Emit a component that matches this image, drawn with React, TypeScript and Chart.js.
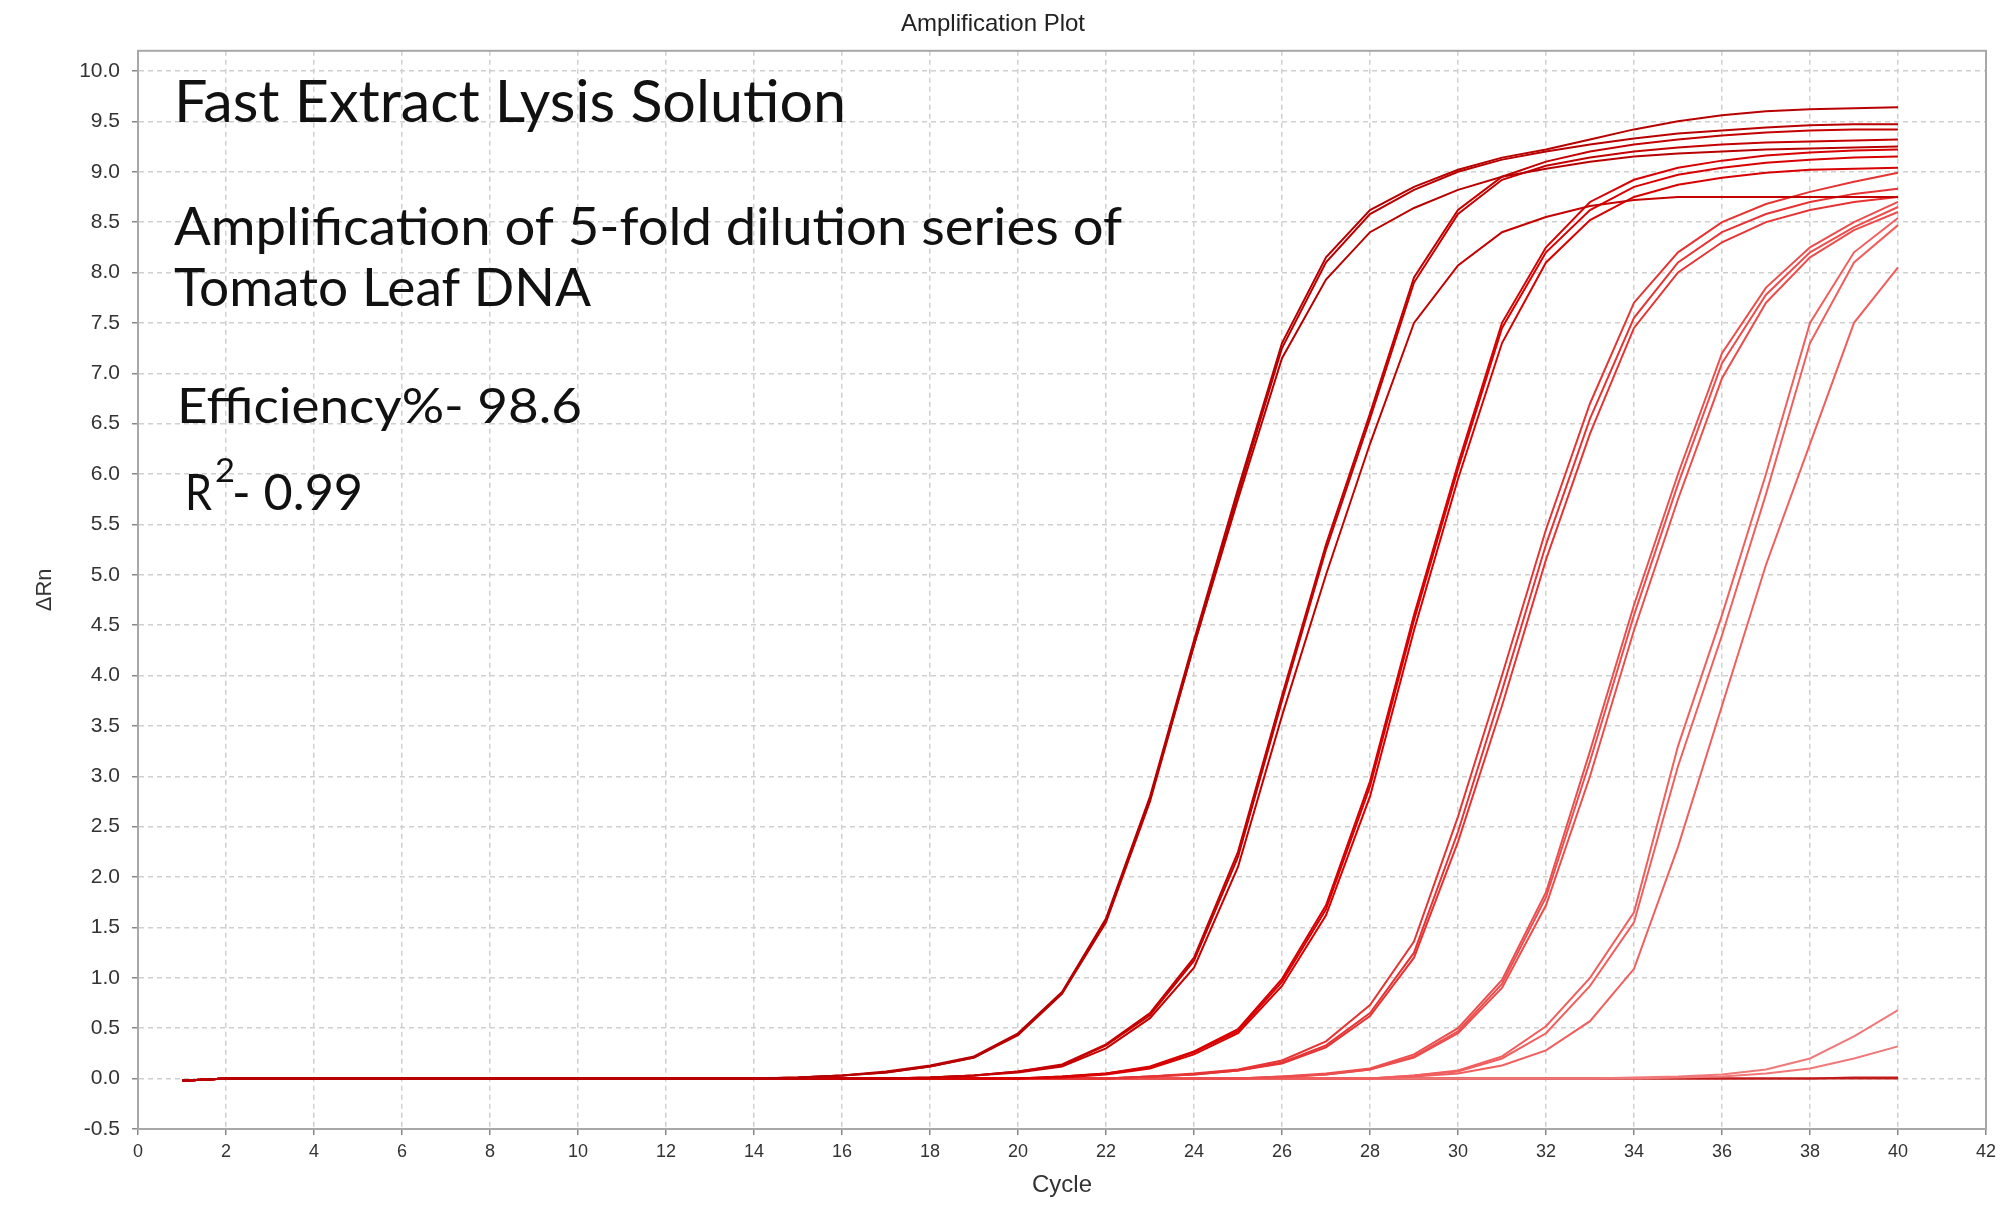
import { useEffect, useRef } from "react";
import { Chart, registerables } from "chart.js";

Chart.register(...registerables);

// cycle numbers on the x axis
const CYCLES = [
  1, 2, 3, 4, 5, 6, 7, 8, 9, 10, 11, 12, 13, 14, 15, 16, 17, 18, 19, 20,
  21, 22, 23, 24, 25, 26, 27, 28, 29, 30, 31, 32, 33, 34, 35, 36, 37, 38, 39, 40,
];

// axis ranges
const X_MIN = 0;
const X_MAX = 42;
const X_STEP = 2;
const Y_MIN = -0.5;
const Y_MAX = 10.2;
const Y_STEP = 0.5;

// dilution 1 (earliest)
const A1 = [-0.02, 0, 0, 0, 0, 0, 0, 0, 0, 0, 0, 0, 0, 0, 0.01, 0.03, 0.07, 0.13, 0.22, 0.45, 0.86, 1.59, 2.8, 4.35, 5.85, 7.3, 8.15, 8.62, 8.85, 9.02, 9.14, 9.22, 9.32, 9.42, 9.5, 9.56, 9.6, 9.62, 9.63, 9.64];
const A2 = [-0.02, 0, 0, 0, 0, 0, 0, 0, 0, 0, 0, 0, 0, 0, 0.01, 0.03, 0.06, 0.12, 0.21, 0.43, 0.84, 1.55, 2.75, 4.3, 5.8, 7.25, 8.1, 8.58, 8.82, 9.0, 9.12, 9.2, 9.27, 9.33, 9.38, 9.41, 9.44, 9.46, 9.47, 9.47];
const A3 = [-0.02, 0, 0, 0, 0, 0, 0, 0, 0, 0, 0, 0, 0, 0, 0.01, 0.03, 0.06, 0.12, 0.21, 0.44, 0.85, 1.57, 2.78, 4.3, 5.75, 7.15, 7.93, 8.4, 8.64, 8.82, 8.95, 9.03, 9.1, 9.15, 9.18, 9.2, 9.22, 9.23, 9.24, 9.25];

// dilution 2
const B1 = [-0.02, 0, 0, 0, 0, 0, 0, 0, 0, 0, 0, 0, 0, 0, 0, 0, 0, 0.01, 0.03, 0.07, 0.14, 0.34, 0.65, 1.2, 2.25, 3.8, 5.3, 6.6, 7.95, 8.62, 8.95, 9.1, 9.2, 9.27, 9.32, 9.36, 9.39, 9.41, 9.42, 9.42];
const B2 = [-0.02, 0, 0, 0, 0, 0, 0, 0, 0, 0, 0, 0, 0, 0, 0, 0, 0, 0.01, 0.03, 0.07, 0.13, 0.33, 0.63, 1.17, 2.2, 3.75, 5.25, 6.55, 7.9, 8.58, 8.92, 9.06, 9.14, 9.2, 9.24, 9.27, 9.29, 9.3, 9.31, 9.32];
const B3 = [-0.02, 0, 0, 0, 0, 0, 0, 0, 0, 0, 0, 0, 0, 0, 0, 0, 0, 0.01, 0.03, 0.06, 0.12, 0.3, 0.6, 1.1, 2.1, 3.6, 5.0, 6.3, 7.5, 8.07, 8.4, 8.55, 8.66, 8.72, 8.75, 8.75, 8.75, 8.75, 8.75, 8.75];

// dilution 3
const C1 = [-0.02, 0, 0, 0, 0, 0, 0, 0, 0, 0, 0, 0, 0, 0, 0, 0, 0, 0, 0, 0, 0.02, 0.05, 0.12, 0.27, 0.49, 0.99, 1.72, 2.95, 4.6, 6.1, 7.5, 8.25, 8.7, 8.92, 9.04, 9.11, 9.16, 9.19, 9.21, 9.22];
const C2 = [-0.02, 0, 0, 0, 0, 0, 0, 0, 0, 0, 0, 0, 0, 0, 0, 0, 0, 0, 0, 0, 0.02, 0.05, 0.11, 0.26, 0.47, 0.96, 1.68, 2.9, 4.55, 6.05, 7.45, 8.2, 8.62, 8.85, 8.97, 9.04, 9.09, 9.12, 9.14, 9.15];
const C3 = [-0.02, 0, 0, 0, 0, 0, 0, 0, 0, 0, 0, 0, 0, 0, 0, 0, 0, 0, 0, 0, 0.01, 0.04, 0.1, 0.24, 0.45, 0.92, 1.62, 2.8, 4.45, 5.95, 7.3, 8.1, 8.52, 8.75, 8.87, 8.94, 8.99, 9.02, 9.03, 9.04];

// dilution 4
const D1 = [-0.02, 0, 0, 0, 0, 0, 0, 0, 0, 0, 0, 0, 0, 0, 0, 0, 0, 0, 0, 0, 0, 0, 0.02, 0.05, 0.09, 0.18, 0.37, 0.73, 1.36, 2.6, 4.0, 5.45, 6.7, 7.7, 8.2, 8.5, 8.68, 8.8, 8.9, 8.99];
const D2 = [-0.02, 0, 0, 0, 0, 0, 0, 0, 0, 0, 0, 0, 0, 0, 0, 0, 0, 0, 0, 0, 0, 0, 0.02, 0.04, 0.08, 0.16, 0.33, 0.65, 1.25, 2.45, 3.85, 5.3, 6.55, 7.55, 8.1, 8.4, 8.58, 8.7, 8.78, 8.83];
const D3 = [-0.02, 0, 0, 0, 0, 0, 0, 0, 0, 0, 0, 0, 0, 0, 0, 0, 0, 0, 0, 0, 0, 0, 0.02, 0.04, 0.08, 0.15, 0.31, 0.62, 1.2, 2.35, 3.7, 5.15, 6.4, 7.45, 8.0, 8.3, 8.5, 8.62, 8.7, 8.75];

// dilution 5
const E1 = [-0.02, 0, 0, 0, 0, 0, 0, 0, 0, 0, 0, 0, 0, 0, 0, 0, 0, 0, 0, 0, 0, 0, 0, 0, 0, 0.02, 0.05, 0.1, 0.24, 0.5, 0.98, 1.85, 3.25, 4.7, 6.0, 7.2, 7.85, 8.25, 8.5, 8.7];
const E2 = [-0.02, 0, 0, 0, 0, 0, 0, 0, 0, 0, 0, 0, 0, 0, 0, 0, 0, 0, 0, 0, 0, 0, 0, 0, 0, 0.02, 0.04, 0.09, 0.22, 0.47, 0.94, 1.8, 3.15, 4.6, 5.9, 7.1, 7.78, 8.2, 8.45, 8.65];
const E3 = [-0.02, 0, 0, 0, 0, 0, 0, 0, 0, 0, 0, 0, 0, 0, 0, 0, 0, 0, 0, 0, 0, 0, 0, 0, 0, 0.01, 0.04, 0.09, 0.21, 0.45, 0.9, 1.72, 3.0, 4.45, 5.75, 6.95, 7.7, 8.15, 8.42, 8.6];

// dilution 6 (latest)
const F1 = [-0.02, 0, 0, 0, 0, 0, 0, 0, 0, 0, 0, 0, 0, 0, 0, 0, 0, 0, 0, 0, 0, 0, 0, 0, 0, 0, 0, 0, 0.03, 0.08, 0.22, 0.52, 1.0, 1.65, 3.3, 4.6, 6.0, 7.5, 8.2, 8.54];
const F2 = [-0.02, 0, 0, 0, 0, 0, 0, 0, 0, 0, 0, 0, 0, 0, 0, 0, 0, 0, 0, 0, 0, 0, 0, 0, 0, 0, 0, 0, 0.03, 0.07, 0.2, 0.45, 0.92, 1.55, 3.1, 4.4, 5.8, 7.3, 8.1, 8.47];
const F3 = [-0.02, 0, 0, 0, 0, 0, 0, 0, 0, 0, 0, 0, 0, 0, 0, 0, 0, 0, 0, 0, 0, 0, 0, 0, 0, 0, 0, 0, 0.02, 0.05, 0.13, 0.28, 0.57, 1.09, 2.3, 3.7, 5.1, 6.3, 7.5, 8.05];

// late risers and no-template wells
const G1 = [-0.02, 0, 0, 0, 0, 0, 0, 0, 0, 0, 0, 0, 0, 0, 0, 0, 0, 0, 0, 0, 0, 0, 0, 0, 0, 0, 0, 0, 0, 0, 0, 0, 0, 0.01, 0.02, 0.04, 0.09, 0.2, 0.42, 0.68];
const G2 = [-0.02, 0, 0, 0, 0, 0, 0, 0, 0, 0, 0, 0, 0, 0, 0, 0, 0, 0, 0, 0, 0, 0, 0, 0, 0, 0, 0, 0, 0, 0, 0, 0, 0, 0, 0.01, 0.02, 0.05, 0.1, 0.2, 0.32];
const N1 = [-0.02, 0, 0, 0, 0, 0, 0, 0, 0, 0, 0, 0, 0, 0, 0, 0, 0, 0, 0, 0, 0, 0, 0, 0, 0, 0, 0, 0, 0, 0, 0, 0, 0, 0, 0, 0, 0, 0, 0, 0];
const N2 = [-0.02, 0, 0, 0, 0, 0, 0, 0, 0, 0, 0, 0, 0, 0, 0, 0, 0, 0, 0, 0, 0, 0, 0, 0, 0, 0, 0, 0, 0, 0, 0, 0, 0, 0, 0, 0, 0, 0, 0.01, 0.01];

const GROUPS = [
  { name: "Dilution 1", lines: [A1, A2, A3] },
  { name: "Dilution 2", lines: [B1, B2, B3] },
  { name: "Dilution 3", lines: [C1, C2, C3] },
  { name: "Dilution 4", lines: [D1, D2, D3] },
  { name: "Dilution 5", lines: [E1, E2, E3] },
  { name: "Dilution 6", lines: [F1, F2, F3] },
  { name: "Late", lines: [G1, G2] },
  { name: "NTC", lines: [N1, N2] },
];

const GROUP_COLORS = ["#b80000", "#c40000", "#d80000", "#e63434", "#ec4e4e", "#f05e5e", "#f07878", "#c01a1a"];

const TITLE = "Amplification Plot";
const X_TITLE = "Cycle";
const Y_TITLE = "ΔRn";
const NOTE_1 = "Fast Extract Lysis Solution";
const NOTE_2 = "Amplification of 5-fold dilution series of";
const NOTE_3 = "Tomato Leaf DNA";
const NOTE_4 = "Efficiency%- 98.6";
const NOTE_R = "R";
const NOTE_SUP = "2";
const NOTE_R_VAL = "- 0.99";

const AXIS_FONT = "'Liberation Sans', Arial, sans-serif";
const NOTE_FONT = "Lato, 'Open Sans', sans-serif";

// draw a text squeezed/stretched to a given width
const drawFitted = (ctx: CanvasRenderingContext2D, text: string, x: number, y: number, width: number, size: number) => {
  ctx.font = `${size}px ${NOTE_FONT}`;
  const w = ctx.measureText(text).width;
  ctx.save();
  ctx.translate(x, y);
  ctx.scale(width / w, 1);
  ctx.fillText(text, 0, 0);
  ctx.restore();
};

const framePlugin = {
  id: "frame",
  afterDatasetsDraw(chart: any) {
    const { ctx, chartArea } = chart;
    ctx.save();
    ctx.strokeStyle = "#a8a8a8";
    ctx.lineWidth = 2;
    ctx.strokeRect(chartArea.left, chartArea.top, chartArea.right - chartArea.left, chartArea.bottom - chartArea.top);
    ctx.restore();
  },
};

const notesPlugin = {
  id: "notes",
  afterDraw(chart: any) {
    const ctx: CanvasRenderingContext2D = chart.ctx;
    ctx.save();
    ctx.fillStyle = "#111";
    ctx.textAlign = "left";
    ctx.textBaseline = "alphabetic";
    drawFitted(ctx, NOTE_1, 174, 122, 672, 58);
    drawFitted(ctx, NOTE_2, 174, 245, 948, 53);
    drawFitted(ctx, NOTE_3, 174, 306, 417, 53);
    drawFitted(ctx, NOTE_4, 177, 423, 405, 49);
    drawFitted(ctx, NOTE_R, 185, 510, 27, 51);
    drawFitted(ctx, NOTE_SUP, 215, 482, 20, 32);
    drawFitted(ctx, NOTE_R_VAL, 232, 510, 131, 51);
    ctx.restore();
  },
};

const gridOpts = {
  color: "#d0d0d0",
  lineWidth: 1.5,
  tickLength: 6,
  tickColor: "#888",
  tickBorderDash: [],
};

const AmplificationPlot = () => {
  const canvasRef = useRef<HTMLCanvasElement>(null);
  const chartRef = useRef<Chart | null>(null);

  useEffect(() => {
    document.body.style.margin = "0";
    document.body.style.overflow = "hidden";
    if (!canvasRef.current) return;

    const datasets: any[] = [];
    GROUPS.forEach((group, gi) => {
      group.lines.forEach((line, li) => {
        datasets.push({
          label: `${group.name} ${li + 1}`,
          data: CYCLES.map((c, i) => ({ x: c, y: line[i] })),
          borderColor: GROUP_COLORS[gi],
          borderWidth: 2,
          pointRadius: 0,
          tension: 0,
          fill: false,
        });
      });
    });

    chartRef.current = new Chart(canvasRef.current, {
      type: "line",
      data: { datasets },
      options: {
        animation: false,
        responsive: true,
        maintainAspectRatio: false,
        devicePixelRatio: 1,
        events: [],
        layout: { padding: { left: 0, right: 30, top: 0, bottom: 0 } },
        scales: {
          x: {
            type: "linear",
            min: X_MIN,
            max: X_MAX,
            afterFit: (scale: any) => {
              scale.height = 90;
            },
            ticks: {
              stepSize: X_STEP,
              autoSkip: false,
              maxRotation: 0,
              padding: 6,
              color: "#333",
              font: { family: AXIS_FONT, size: 18 },
            },
            grid: gridOpts as any,
            border: { display: true, color: "#a8a8a8", width: 2, dash: [5, 4] },
            title: {
              display: true,
              text: X_TITLE,
              color: "#333",
              font: { family: AXIS_FONT, size: 24 },
              padding: { top: 0, bottom: 19 },
            },
          },
          y: {
            type: "linear",
            min: Y_MIN,
            max: Y_MAX,
            afterFit: (scale: any) => {
              scale.width = 138;
            },
            ticks: {
              stepSize: Y_STEP,
              includeBounds: false,
              padding: 12,
              color: "#333",
              font: { family: AXIS_FONT, size: 21 },
              callback: (v: any) => Number(v).toFixed(1),
            },
            grid: gridOpts as any,
            border: { display: true, color: "#a8a8a8", width: 2, dash: [5, 4] },
            title: {
              display: true,
              text: Y_TITLE,
              color: "#333",
              font: { family: AXIS_FONT, size: 22 },
              padding: { top: 32, bottom: 0 },
            },
          },
        },
        plugins: {
          legend: { display: false },
          tooltip: { enabled: false },
          title: {
            display: true,
            text: TITLE,
            color: "#222",
            font: { family: AXIS_FONT, size: 24, weight: "normal" },
            padding: { top: 10, bottom: 12 },
          },
        },
      },
      plugins: [framePlugin, notesPlugin],
    });

    return () => {
      if (chartRef.current) {
        chartRef.current.destroy();
        chartRef.current = null;
      }
    };
  }, []);

  return (
    <div style={{ position: "relative", width: 2016, height: 1219, background: "#fff" }}>
      <canvas ref={canvasRef}></canvas>
    </div>
  );
};

export default function App() {
  return <AmplificationPlot />;
}
